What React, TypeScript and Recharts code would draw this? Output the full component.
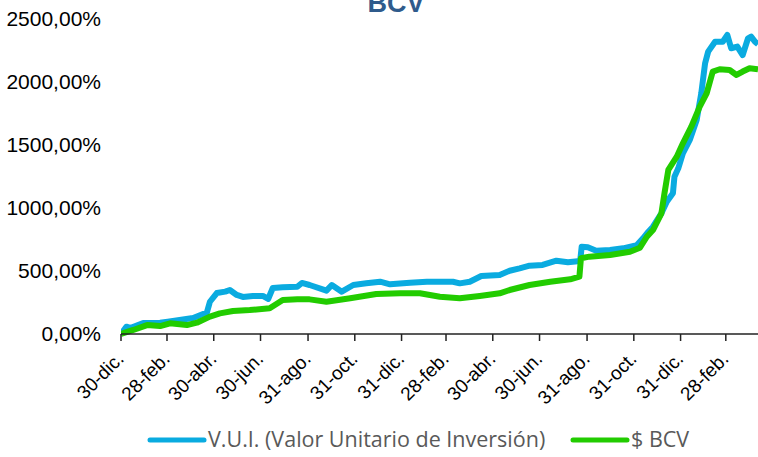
import React from "react";
import {
  LineChart,
  Line,
  XAxis,
  YAxis,
  Legend,
  Customized,
} from "recharts";

/* Rendimiento acumulado: V.U.I. vs $ BCV. x = días desde 30-dic. */

const tickDays = [0, 60, 121, 182, 244, 305, 366, 424, 485, 546, 608, 669, 730, 789];
const tickLabels = [
  "30-dic.", "28-feb.", "30-abr.", "30-jun.", "31-ago.", "31-oct.", "31-dic.",
  "28-feb.", "30-abr.", "30-jun.", "31-ago.", "31-oct.", "31-dic.", "28-feb.",
];
const yTicks = [0, 500, 1000, 1500, 2000, 2500];

const vuiDays = [
  0, 7, 12, 29, 51, 61, 94, 112, 116, 125, 136, 142, 151, 159, 172, 185, 192, 198,
  211, 230, 236, 246, 268, 275, 288, 303, 320, 338, 351, 377, 399, 433, 442, 455,
  470, 494, 507, 520, 533, 550, 568, 583, 599, 601, 609, 620, 638, 655, 673, 681,
  688, 694, 705, 712, 720, 722, 727, 733, 742, 751, 757, 762, 766, 775, 785, 791,
  796, 804, 811, 818, 822, 827, 831,
];
const vuiValues = [
  0, 58, 48, 87, 90, 98, 127, 170, 256, 325, 336, 349, 310, 294, 302, 302, 278, 365,
  371, 375, 405, 389, 344, 389, 336, 389, 402, 415, 394, 407, 415, 415, 402, 415,
  460, 468, 502, 521, 542, 548, 582, 569, 579, 693, 688, 661, 667, 680, 706, 759,
  812, 852, 958, 1050, 1117, 1248, 1315, 1434, 1540, 1698, 1910, 2149, 2241, 2320, 2320, 2373,
  2268, 2281, 2214, 2347, 2360, 2320, 2300,
];

const bcvDays = [
  0, 16, 34, 51, 64, 86, 99, 116, 129, 146, 168, 194, 211, 230, 246, 268, 299, 333,
  364, 390, 416, 442, 468, 494, 507, 533, 560, 586, 598, 600, 611, 638, 664, 677,
  686, 694, 705, 709, 714, 725, 733, 744, 755, 764, 772, 781, 794, 803, 811, 820, 831,
];
const bcvValues = [
  0, 32, 71, 63, 85, 71, 90, 138, 164, 183, 190, 204, 270, 275, 275, 256, 283, 317,
  323, 323, 296, 283, 302, 323, 349, 389, 415, 434, 455, 601, 614, 627, 653, 685,
  772, 825, 958, 1117, 1302, 1407, 1513, 1645, 1804, 1910, 2083, 2101, 2095, 2056, 2083, 2109, 2101,
];

const seriesNames = ["V.U.I. (Valor Unitario de Inversión)", "$ BCV"];
const BLUE = "#0aabe0";
const GREEN = "#22cc00";

const vuiData = vuiDays.map((d, i) => ({ day: d, vui: vuiValues[i] }));
const bcvData = bcvDays.map((d, i) => ({ day: d, bcv: bcvValues[i] }));

const fmtPct = (v: number) => `${v},00%`;

function XTick(props: any) {
  const { x, payload } = props;
  const idx = tickDays.indexOf(payload.value);
  const tx = x + 4;
  const ty = 360;
  return (
    <text
      x={tx}
      y={ty}
      textAnchor="end"
      transform={`rotate(-45 ${tx} ${ty})`}
      fontSize={19}
      fontFamily="'Liberation Sans', Arial, sans-serif"
      fill="#000"
    >
      {tickLabels[idx]}
    </text>
  );
}

function YTick(props: any) {
  const { y, payload } = props;
  return (
    <text
      x={101}
      y={y}
      dy={7}
      textAnchor="end"
      fontSize={21}
      fontFamily="'Liberation Sans', Arial, sans-serif"
      fill="#000"
    >
      {fmtPct(payload.value)}
    </text>
  );
}

function LegendContent() {
  const items = [
    { name: seriesNames[0], color: BLUE, x: 150 },
    { name: seriesNames[1], color: GREEN, x: 573 },
  ];
  return (
    <svg width={758} height={30}>
      {items.map((it) => (
        <g key={it.name}>
          <line x1={it.x} x2={it.x + 54} y1={15} y2={15} stroke={it.color} strokeWidth={5} strokeLinecap="round" />
          <text
            x={it.x + 58}
            y={22}
            fontSize={21.5}
            fontFamily="'Open Sans', sans-serif"
            fill="#595959"
          >
            {it.name}
          </text>
        </g>
      ))}
    </svg>
  );
}

function Title() {
  return (
    <text
      x={396}
      y={12}
      textAnchor="middle"
      fontSize={27}
      fontWeight="bold"
      fontFamily="'Liberation Sans', Arial, sans-serif"
      fill="#2f5b8c"
    >
      BCV
    </text>
  );
}

export default function App() {
  return (
    <div style={{ position: "absolute", left: 0, top: 0, background: "#fff" }}>
      <LineChart width={758} height={457} margin={{ top: 19, right: 0, bottom: 0, left: 0 }}>
        <XAxis
          dataKey="day"
          type="number"
          domain={[0, 831]}
          ticks={tickDays}
          allowDataOverflow
          height={123}
          axisLine={{ stroke: "#222", strokeWidth: 1.5 }}
          tickLine={{ stroke: "#222", strokeWidth: 1.5 }}
          tickSize={7}
          tick={<XTick />}
          interval={0}
        />
        <YAxis
          type="number"
          domain={[0, 2500]}
          ticks={yTicks}
          width={121}
          axisLine={false}
          tickLine={false}
          tick={<YTick />}
          interval={0}
        />
        <Line
          data={vuiData}
          dataKey="vui"
          name={seriesNames[0]}
          stroke={BLUE}
          strokeWidth={6}
          dot={false}
          strokeLinejoin="round"
          isAnimationActive={false}
        />
        <Line
          data={bcvData}
          dataKey="bcv"
          name={seriesNames[1]}
          stroke={GREEN}
          strokeWidth={6}
          dot={false}
          strokeLinejoin="round"
          isAnimationActive={false}
        />
        <Legend
          layout="vertical"
          align="center"
          verticalAlign="middle"
          wrapperStyle={{ position: "absolute", left: 0, top: 425, width: 758, height: 30 }}
          content={<LegendContent />}
        />
        <Customized component={<Title />} />
      </LineChart>
    </div>
  );
}
